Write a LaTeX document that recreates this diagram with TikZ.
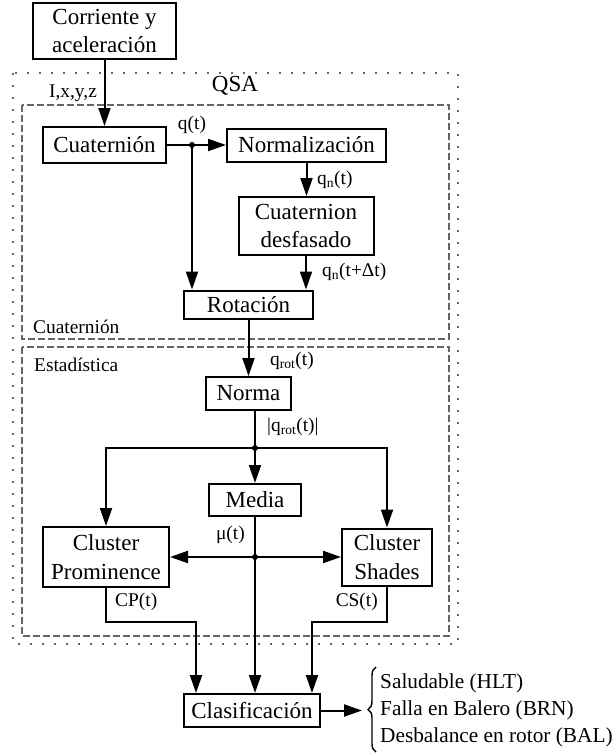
\documentclass[tikz,border=0pt]{standalone}
\usepackage{fontspec}
\setmainfont{Liberation Serif}
\usetikzlibrary{arrows.meta,decorations.pathreplacing}
\begin{document}
\begin{tikzpicture}[x=1pt,y=-1pt,
 blk/.style={draw,line width=2pt,inner sep=0pt,align=center,font=\fontsize{23}{28.5}\selectfont},
 lbl/.style={inner sep=0pt,font=\fontsize{19.4}{23}\selectfont},
 conn/.style={line width=2pt,-{Triangle[length=18pt,width=12pt]}},
 wire/.style={line width=2pt},
 dotbox/.style={line width=1.8pt,black!60,dash pattern=on 1.8pt off 10.2pt},
 dashbox/.style={line width=1.3pt,black!60,dash pattern=on 7pt off 3pt},
 jdot/.style={circle,fill,inner sep=0pt,minimum size=6pt}]
\useasboundingbox (0,0) rectangle (616,753);
% group frames
\draw[dotbox] (13,73) rectangle (458,644);
\draw[dashbox] (22,105) rectangle (449,339);
\draw[dashbox] (22,347) rectangle (449,636);
% blocks
\node[blk,minimum width=143pt,minimum height=56pt] (corr) at (104.5,31) {Corriente y\\aceleración};
\node[blk,minimum width=123pt,minimum height=36pt] (cuat) at (104.5,145) {Cuaternión};
\node[blk,minimum width=159pt,minimum height=33pt] (nrm) at (306.5,145) {Normalización};
\node[blk,minimum width=135pt,minimum height=58pt] (desf) at (306,226) {Cuaternion\\desfasado};
\node[blk,minimum width=129pt,minimum height=28pt] (rot) at (248.5,304.5) {Rotación};
\node[blk,minimum width=85pt,minimum height=33pt] (norma) at (248.5,393.5) {Norma};
\node[blk,minimum width=92pt,minimum height=32pt] (media) at (255,500) {Media};
\node[blk,minimum width=126pt,minimum height=60pt] (cp) at (106,557) {Cluster\\Prominence};
\node[blk,minimum width=90pt,minimum height=57pt] (cs) at (387,557) {Cluster\\Shades};
\node[blk,minimum width=136pt,minimum height=33pt] (clas) at (252,710.5) {Clasificación};
% junctions
\coordinate (j1) at (192,145);
\coordinate (j2) at (255,448);
\coordinate (j3) at (255,557);
\coordinate (k1) at (196,622);
\coordinate (k2) at (312,622);
\coordinate (out) at (362,710.5);
% connectors
\draw[conn] (corr) -- (cuat);
\draw[conn] (cuat) -- (nrm);
\draw[conn] (j1) -- (j1 |- rot.north);
\draw[conn] (nrm.south) -- (nrm.south |- desf.north);
\draw[conn] (desf.south) -- (desf.south |- rot.north);
\draw[conn] (rot) -- (norma);
\draw[wire] (norma.south -| j2) -- (j2);
\draw[conn] (j2) -- (media);
\draw[conn] (j2) -| (cp.north);
\draw[conn] (j2) -| (cs.north);
\draw[conn] (j3) -- (cp);
\draw[conn] (j3) -- (cs);
\draw[conn] (media) -- (media |- clas.north);
\draw[conn] (cp.south) |- (k1) -- (k1 |- clas.north);
\draw[conn] (cs.south) |- (k2) -- (k2 |- clas.north);
\draw[conn] (clas) -- (out);
\node[jdot] at (j1) {};
\node[jdot] at (j2) {};
\node[jdot] at (j3) {};
% brace and results
\draw[line width=1.4pt,decorate,decoration={brace,amplitude=8pt}] (376,752) -- (376,667);
\node[anchor=west,align=left,inner sep=0pt,font=\fontsize{21.3}{27}\selectfont] (res) at (380,710) {Saludable (HLT)\\Falla en Balero (BRN)\\Desbalance en rotor (BAL)};
% labels
\node[lbl] (lI) at (73,93) {I,x,y,z};
\node[inner sep=0pt,font=\fontsize{23}{28}\selectfont] (lQ) at (235,86) {QSA};
\node[lbl] (lq) at (192,125) {q(t)};
\node[lbl,anchor=west] (lqn) at (317,180) {q\textsubscript{n}(t)};
\node[lbl,anchor=west] (lqd) at (322,272) {q\textsubscript{n}(t+Δt)};
\node[lbl,anchor=west] (lc) at (33,327) {Cuaternión};
\node[lbl,anchor=west] (le) at (34,365) {Estadística};
\node[lbl,anchor=west] (lr) at (270,361) {q\textsubscript{rot}(t)};
\node[lbl,anchor=west] (la) at (267,427) {|q\textsubscript{rot}(t)|};
\node[lbl,anchor=east] (lm) at (245,535) {μ(t)};
\node[lbl,anchor=west] (lcp) at (115,602) {CP(t)};
\node[lbl,anchor=east] (lcs) at (378,602) {CS(t)};
\end{tikzpicture}
\end{document}
